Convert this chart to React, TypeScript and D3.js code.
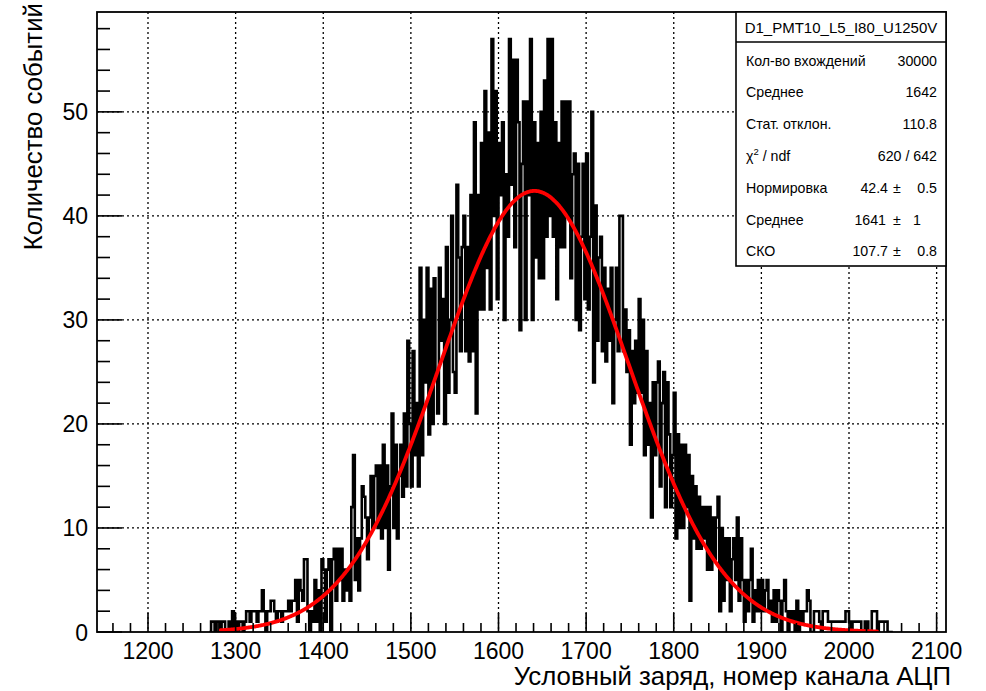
import React from "react";
import * as d3 from "d3";

// ---- data ----
const binStart = 1270;
const binWidth = 2;
// counts per bin (5 bins per 10 channels)
const counts: number[] = [
  0,1,1,0,1, 1,0,1,1,0, 0,1,0,2,0, 1,0,1,1,0, 1,2,2,1,2,
  2,2,1,2,2, 4,2,0,2,2, 3,3,2,1,2, 2,1,2,2,2, 3,2,3,3,5,
  1,5,4,3,7, 7,2,0,2,1, 5,1,4,0,7, 6,1,6,7,0, 7,8,3,8,5,
  8,3,6,4,6, 3,12,17,5,9, 4,9,14,13,11, 7,11,15,10,15, 16,10,16,9,18,
  10,16,6,14,21, 10,18,9,15,18, 13,21,14,28,20, 14,27,17,22,14, 35,17,30,24,35,
  19,33,20,34,25, 21,35,28,32,20, 37,23,30,40,25, 23,43,36,27,37, 40,27,37,26,42,
  27,49,21,42,31, 47,31,52,35,48, 31,57,40,52,32, 47,42,49,30,44, 38,57,43,55,37,
  55,49,29,45,51, 30,51,42,57,30, 49,36,47,34,50, 34,53,38,57,40, 57,38,49,32,47,
  37,51,37,51,40, 51,34,44,46,30, 45,29,38,45,32, 46,31,38,50,24, 41,28,36,38,27,
  35,26,33,28,35, 22,30,35,27,40, 40,27,31,25,29, 18,27,22,28,23, 32,23,30,17,27,
  18,22,11,24,17, 24,26,14,22,25, 12,24,19,12,17, 23,9,19,10,18, 10,18,12,17,3,
  15,9,14,8,13, 8,12,9,12,6, 12,6,11,7,11, 13,2,10,3,9, 5,9,2,7,9,
  5,11,3,9,5, 1,5,2,5,8, 1,4,2,5,2, 5,2,4,5,2, 3,1,4,1,4,
  3,0,3,5,2, 0,2,1,2,0, 3,0,2,1,2, 2,4,3,0,0, 2,2,2,1,0,
  2,2,2,1,1, 1,1,1,1,1, 1,1,1,2,2, 1,0,1,1,1, 1,1,0,0,1,
  1,0,0,2,2, 2,0,1,1,1, 1,1,0,0,0,
];

// Gaussian fit parameters (from stats box)
const fitNorm = 42.4;
const fitMean = 1641;
const fitSigma = 107.7;
const fitRange = [1283, 2032];

const xMajorTicks = [1200, 1300, 1400, 1500, 1600, 1700, 1800, 1900, 2000, 2100];
const yMajorTicks = [0, 10, 20, 30, 40, 50];

const histTitle = "D1_PMT10_L5_I80_U1250V";
const statLabels = ["Кол-во вхождений", "Среднее", "Стат. отклон."];
const statValues = ["30000", "1642", "110.8"];
const chiValue = "620 / 642";
const fitLabels = ["Нормировка", "Среднее", "СКО"];
const fitValues = ["42.4", "1641", "107.7"];
const fitErrors = ["0.5", "1", "0.8"];

const xTitle = "Условный заряд, номер канала АЦП";
const yTitle = "Количество событий";

// ---- layout ----
const W = 986, H = 691;
const L = 97, R = 946, T = 12, B = 632;
const FONT = "'Liberation Sans', Arial, Helvetica, sans-serif";

export default function App() {
  const x = d3.scaleLinear().domain([1141.8, 2110.7]).range([L, R]);
  const y = d3.scaleLinear().domain([0, 59.6]).range([B, T]);

  // step outline of histogram
  const pts: [number, number][] = [];
  counts.forEach((c, i) => {
    const e0 = binStart + i * binWidth;
    pts.push([x(e0), y(c)]);
    pts.push([x(e0 + binWidth), y(c)]);
  });
  const histPath = d3.line()(pts) || "";

  const fitXs = d3.range(fitRange[0], fitRange[1] + 0.5, 1);
  const fitPath =
    d3
      .line<number>()
      .x((v) => x(v))
      .y((v) => y(fitNorm * Math.exp(-0.5 * Math.pow((v - fitMean) / fitSigma, 2))))
      .curve(d3.curveMonotoneX)(fitXs) || "";

  const xMinor = d3.range(1160, 2101, 20).filter((v) => v % 100 !== 0);
  const yMinor = d3.range(0, 59, 2).filter((v) => v % 10 !== 0);

  const rowY = [60.7, 91.7, 124, 155.5, 188, 220, 251];

  return (
    <div style={{ position: "fixed", left: 0, top: 0, width: W, height: H, background: "#fff" }}>
      <svg width={W} height={H} style={{ display: "block" }} fontFamily={FONT}>
        <rect x={0} y={0} width={W} height={H} fill="#fff" />
        <defs>
          <clipPath id="frame">
            <rect x={L} y={T} width={R - L} height={B - T} />
          </clipPath>
        </defs>

        {/* grid */}
        <g stroke="#000" strokeWidth={1.3} strokeDasharray="2 3">
          {xMajorTicks.map((v) => (
            <line key={"gx" + v} x1={x(v)} x2={x(v)} y1={T} y2={B} />
          ))}
          {yMajorTicks.filter((v) => v > 0).map((v) => (
            <line key={"gy" + v} x1={L} x2={R} y1={y(v)} y2={y(v)} />
          ))}
        </g>

        {/* histogram */}
        <g clipPath="url(#frame)">
          <path d={histPath} fill="none" stroke="#000" strokeWidth={2.6} strokeLinejoin="miter" />
          <path d={fitPath} fill="none" stroke="#ff0000" strokeWidth={3.8} strokeLinecap="round" />
        </g>

        {/* ticks */}
        <g stroke="#000" strokeWidth={1.6}>
          {xMajorTicks.map((v) => (
            <line key={"tx" + v} x1={x(v)} x2={x(v)} y1={B} y2={B - 19} />
          ))}
          {xMinor.map((v) => (
            <line key={"tmx" + v} x1={x(v)} x2={x(v)} y1={B} y2={B - 9} />
          ))}
          {yMajorTicks.map((v) => (
            <line key={"ty" + v} x1={L} x2={L + 25} y1={y(v)} y2={y(v)} />
          ))}
          {yMinor.map((v) => (
            <line key={"tmy" + v} x1={L} x2={L + 13} y1={y(v)} y2={y(v)} />
          ))}
        </g>

        {/* frame */}
        <rect x={L} y={T} width={R - L} height={B - T} fill="none" stroke="#000" strokeWidth={1.8} />

        {/* tick labels */}
        <g fontSize={23} fill="#000">
          {xMajorTicks.map((v) => (
            <text key={"lx" + v} x={x(v)} y={659} textAnchor="middle">
              {v}
            </text>
          ))}
          {yMajorTicks.map((v) => (
            <text key={"ly" + v} x={88} y={y(v) + 8.5} textAnchor="end">
              {v}
            </text>
          ))}
        </g>

        {/* axis titles */}
        <text x={951} y={685} textAnchor="end" fontSize={25.8} fill="#000">
          {xTitle}
        </text>
        <text
          transform={`translate(42,3) rotate(-90)`}
          textAnchor="end"
          fontSize={25.8}
          fill="#000"
        >
          {yTitle}
        </text>

        {/* stats box */}
        <g>
          <rect x={736} y={T} width={R - 736} height={254} fill="#fff" stroke="#000" strokeWidth={1.6} />
          <line x1={736} x2={R} y1={42} y2={42} stroke="#000" strokeWidth={1.3} />
          <text x={841} y={32.5} textAnchor="middle" fontSize={15}>
            {histTitle}
          </text>
          <g fontSize={14.2} fill="#000">
            {statLabels.map((s, i) => (
              <g key={"st" + i}>
                <text x={746} y={rowY[i] + 5}>{s}</text>
                <text x={937} y={rowY[i] + 5} textAnchor="end">
                  {statValues[i]}
                </text>
              </g>
            ))}
            <text x={746} y={rowY[3] + 5}>
              χ
              <tspan fontSize={9.5} dy={-6}>
                2
              </tspan>
              <tspan dy={6}> / ndf</tspan>
            </text>
            <text x={937} y={rowY[3] + 5} textAnchor="end">
              {chiValue}
            </text>
            {fitLabels.map((s, i) => (
              <g key={"ft" + i}>
                <text x={746} y={rowY[4 + i] + 5}>{s}</text>
                <text x={i === 1 ? 886 : 888} y={rowY[4 + i] + 5} textAnchor="end">
                  {fitValues[i]}
                </text>
                <text x={897} y={rowY[4 + i] + 5} textAnchor="middle">
                  ±
                </text>
                <text
                  x={i === 1 ? 913 : 937}
                  y={rowY[4 + i] + 5}
                  textAnchor={i === 1 ? "start" : "end"}
                >
                  {fitErrors[i]}
                </text>
              </g>
            ))}
          </g>
        </g>
      </svg>
    </div>
  );
}
